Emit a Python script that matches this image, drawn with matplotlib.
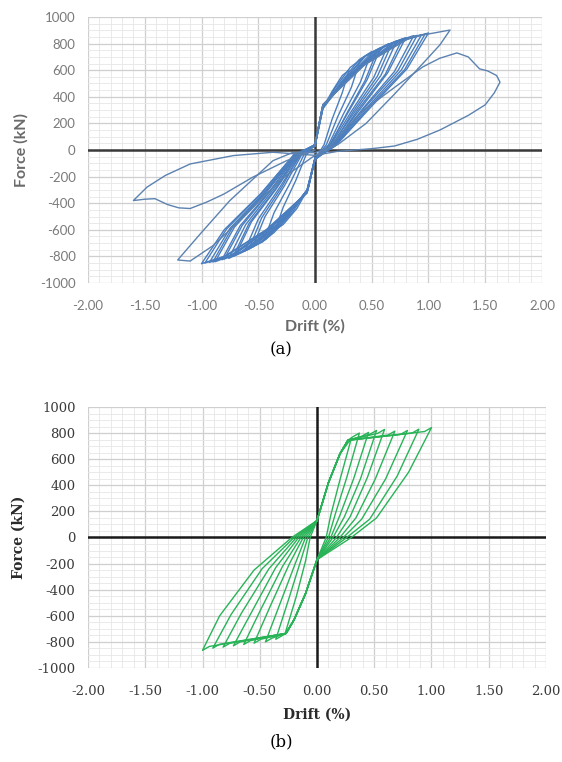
import numpy as np
import matplotlib
matplotlib.use("Agg")
import matplotlib.pyplot as plt
from matplotlib.ticker import MultipleLocator

# ---- (a) blue loops, drift (%) / force (kN) ----
blue_drift = [
    [0, 0.06, 0.15, 0.24, 0.30, 0.24, 0.15, 0.08, 0, -0.06, -0.16, -0.28, -0.35, -0.28, -0.17, -0.08, 0],
    [0, 0.06, 0.18, 0.31, 0.40, 0.32, 0.20, 0.10, 0, -0.06, -0.20, -0.36, -0.45, -0.36, -0.22, -0.10, 0],
    [0, 0.07, 0.22, 0.39, 0.50, 0.40, 0.25, 0.12, 0, -0.07, -0.24, -0.43, -0.55, -0.44, -0.27, -0.12, 0],
    [0, 0.07, 0.25, 0.45, 0.58, 0.46, 0.29, 0.13, 0, -0.07, -0.27, -0.49, -0.62, -0.50, -0.31, -0.13, 0],
    [0, 0.07, 0.28, 0.51, 0.65, 0.52, 0.32, 0.14, 0, -0.07, -0.30, -0.55, -0.70, -0.56, -0.34, -0.14, 0],
    [0, 0.07, 0.31, 0.57, 0.72, 0.58, 0.36, 0.15, 0, -0.07, -0.33, -0.60, -0.76, -0.61, -0.37, -0.15, 0],
    [0, 0.07, 0.34, 0.63, 0.80, 0.64, 0.40, 0.16, 0, -0.07, -0.35, -0.65, -0.82, -0.66, -0.40, -0.16, 0],
    [0, 0.07, 0.37, 0.69, 0.87, 0.70, 0.43, 0.17, 0, -0.07, -0.38, -0.70, -0.88, -0.71, -0.43, -0.17, 0],
    [0, 0.07, 0.40, 0.75, 0.94, 0.76, 0.46, 0.18, 0, -0.07, -0.40, -0.74, -0.93, -0.75, -0.45, -0.18, 0],
    [0, 0.07, 0.43, 0.80, 1.00, 0.81, 0.50, 0.19, 0, -0.07, -0.43, -0.80, -1.00, -0.80, -0.48, -0.19, 0],
    # repeated cycles
    [0, 0.07, 0.24, 0.43, 0.55, 0.44, 0.28, 0.13, 0, -0.07, -0.26, -0.46, -0.58, -0.47, -0.29, -0.13, 0],
    [0, 0.07, 0.30, 0.54, 0.68, 0.55, 0.34, 0.15, 0, -0.07, -0.31, -0.57, -0.72, -0.58, -0.35, -0.15, 0],
    [0, 0.07, 0.33, 0.61, 0.77, 0.62, 0.38, 0.16, 0, -0.07, -0.34, -0.63, -0.80, -0.64, -0.39, -0.16, 0],
    [0, 0.07, 0.38, 0.72, 0.90, 0.73, 0.44, 0.17, 0, -0.07, -0.39, -0.72, -0.90, -0.73, -0.44, -0.17, 0],
    [0, 0.07, 0.42, 0.78, 0.97, 0.79, 0.48, 0.18, 0, -0.07, -0.42, -0.78, -0.97, -0.78, -0.47, -0.18, 0],
]
blue_force = [
    [40, 300, 440, 560, 600, 430, 230, 40, -70, -290, -440, -560, -600, -430, -230, -40, 40],
    [40, 300, 470, 620, 680, 470, 250, 40, -70, -290, -470, -620, -680, -470, -250, -40, 40],
    [40, 320, 500, 680, 740, 510, 270, 40, -70, -300, -500, -670, -730, -500, -270, -40, 40],
    [40, 320, 520, 710, 770, 530, 280, 40, -70, -300, -520, -700, -760, -520, -280, -40, 40],
    [40, 330, 540, 740, 800, 550, 290, 40, -70, -310, -540, -730, -790, -540, -290, -40, 40],
    [40, 330, 560, 760, 820, 560, 300, 40, -70, -310, -560, -750, -815, -560, -300, -40, 40],
    [40, 340, 580, 790, 845, 580, 310, 40, -70, -320, -570, -765, -825, -570, -310, -40, 40],
    [40, 340, 600, 810, 860, 590, 320, 40, -70, -320, -580, -780, -840, -580, -320, -40, 40],
    [40, 340, 620, 820, 868, 600, 320, 40, -70, -320, -590, -790, -845, -590, -320, -40, 40],
    [40, 340, 640, 830, 880, 610, 330, 40, -70, -320, -600, -800, -855, -600, -330, -40, 40],
    [30, 310, 510, 700, 750, 520, 275, 30, -60, -300, -510, -690, -740, -510, -275, -30, 30],
    [30, 320, 550, 750, 805, 555, 295, 30, -60, -305, -550, -740, -800, -550, -295, -30, 30],
    [30, 330, 570, 780, 835, 570, 305, 30, -60, -315, -565, -760, -820, -565, -305, -30, 30],
    [30, 335, 610, 815, 862, 595, 320, 30, -60, -320, -585, -785, -842, -585, -320, -30, 30],
    [30, 340, 630, 825, 872, 605, 325, 30, -60, -320, -595, -795, -850, -595, -325, -30, 30],
]
# cycle to +1.19 / -1.21
blue_c11_drift = [0, 0.07, 0.45, 0.85, 1.05, 1.19, 1.10, 0.95, 0.70, 0.45, 0.20, 0, -0.20, -0.37,
                  -0.75, -1.00, -1.21, -1.10, -0.90, -0.60, -0.30, 0, 0.10]
blue_c11_force = [40, 340, 650, 850, 880, 902, 790, 650, 420, 200, 40, -20, -20, -80,
                  -380, -620, -827, -835, -720, -480, -220, -40, 0]
# last cycle to +1.63 / -1.60
blue_c12_drift = [0.10, 0.40, 0.70, 0.95, 1.10, 1.25, 1.35, 1.45, 1.52, 1.60, 1.63, 1.58, 1.50, 1.35,
                  1.10, 0.90, 0.70, 0.50, 0.20, 0, -0.37, -0.72, -1.10, -1.32, -1.48, -1.60,
                  -1.50, -1.41, -1.30, -1.20, -1.10, -0.95, -0.80, -0.55, -0.25, 0]
blue_c12_force = [0, 280, 470, 625, 690, 730, 700, 610, 595, 560, 510, 430, 340, 260,
                  150, 80, 30, 10, -10, -40, -17, -42, -105, -192, -279, -380,
                  -370, -366, -410, -435, -440, -390, -330, -205, -80, 0]

# ---- (b) green loops ----
green_drift = [
    [0, 0.10, 0.20, 0.30, 0.20, 0.12, 0.08, 0, -0.10, -0.20, -0.28, -0.18, -0.10, -0.06, 0],
    [0, 0.10, 0.20, 0.27, 0.31, 0.37, 0.26, 0.16, 0.10, 0, -0.10, -0.20, -0.27, -0.30, -0.36, -0.25, -0.15, -0.08, 0],
    [0, 0.10, 0.20, 0.27, 0.39, 0.45, 0.32, 0.20, 0.12, 0, -0.10, -0.20, -0.27, -0.39, -0.45, -0.32, -0.19, -0.10, 0],
    [0, 0.10, 0.20, 0.27, 0.46, 0.52, 0.38, 0.24, 0.14, 0, -0.10, -0.20, -0.27, -0.49, -0.55, -0.41, -0.24, -0.12, 0],
    [0, 0.10, 0.20, 0.27, 0.53, 0.59, 0.44, 0.29, 0.17, 0, -0.10, -0.20, -0.27, -0.58, -0.64, -0.49, -0.30, -0.14, 0],
    [0, 0.10, 0.20, 0.27, 0.62, 0.68, 0.51, 0.34, 0.20, 0, -0.10, -0.20, -0.27, -0.67, -0.73, -0.57, -0.36, -0.16, 0],
    [0, 0.10, 0.20, 0.27, 0.73, 0.79, 0.60, 0.39, 0.23, 0, -0.10, -0.20, -0.27, -0.76, -0.82, -0.66, -0.42, -0.18, 0],
    [0, 0.10, 0.20, 0.27, 0.83, 0.89, 0.70, 0.46, 0.26, 0, -0.10, -0.20, -0.27, -0.85, -0.91, -0.75, -0.48, -0.20, 0],
    [0, 0.10, 0.20, 0.27, 0.94, 1.00, 0.80, 0.52, 0.30, 0, -0.10, -0.20, -0.27, -0.94, -1.00, -0.85, -0.55, -0.22, 0],
]
green_force = [
    [130, 420, 640, 760, 440, 170, 0, -170, -430, -630, -740, -450, -180, 0, 130],
    [130, 420, 640, 745, 770, 800, 460, 180, 0, -170, -430, -630, -735, -750, -780, -480, -200, 0, 130],
    [130, 420, 640, 745, 775, 805, 450, 170, 0, -170, -430, -630, -735, -770, -800, -500, -200, 0, 130],
    [130, 420, 640, 745, 790, 820, 450, 160, 0, -170, -430, -630, -735, -780, -810, -530, -200, 0, 130],
    [130, 420, 640, 745, 798, 828, 460, 160, 0, -170, -430, -630, -735, -790, -820, -550, -220, 0, 130],
    [130, 420, 640, 745, 785, 815, 450, 150, 0, -170, -430, -630, -735, -800, -830, -570, -230, 0, 130],
    [130, 420, 640, 745, 790, 820, 450, 140, 0, -170, -430, -630, -735, -810, -840, -580, -240, 0, 130],
    [130, 420, 640, 745, 800, 830, 470, 140, 0, -170, -430, -630, -735, -818, -848, -590, -240, 0, 130],
    [130, 420, 640, 745, 812, 842, 500, 150, 0, -170, -430, -630, -735, -835, -865, -600, -250, 0, 130],
]

x_ticks = [-2.0, -1.5, -1.0, -0.5, 0.0, 0.5, 1.0, 1.5, 2.0]
y_ticks = [-1000, -800, -600, -400, -200, 0, 200, 400, 600, 800, 1000]

fig = plt.figure(figsize=(5.62, 7.62), dpi=100)
ax1 = fig.add_axes([0.1566, 0.6286, 0.8078, 0.3491])
ax2 = fig.add_axes([0.1566, 0.1234, 0.8149, 0.3425])


def style_axes(ax, font, tick_color, label_color, tick_size, label_size, axis_color):
    ax.set_xlim(-2, 2)
    ax.set_ylim(-1000, 1000)
    ax.set_xticks(x_ticks)
    ax.set_yticks(y_ticks)
    ax.set_xticklabels(["%.2f" % v for v in x_ticks], family=font, color=tick_color, fontsize=tick_size)
    ax.set_yticklabels([str(v) for v in y_ticks], family=font, color=tick_color, fontsize=tick_size)
    ax.xaxis.set_minor_locator(MultipleLocator(0.1))
    ax.yaxis.set_minor_locator(MultipleLocator(50))
    ax.grid(which="major", color="#cfcfcf", lw=0.9)
    ax.grid(which="minor", color="#e6e6e6", lw=0.6)
    ax.set_axisbelow(True)
    ax.tick_params(which="both", length=0)
    ax.tick_params(axis="y", pad=9)
    ax.tick_params(axis="x", pad=12)
    for s in ax.spines.values():
        s.set_visible(False)
    ax.axhline(0, color=axis_color, lw=1.8, zorder=1)
    ax.axvline(0, color=axis_color, lw=1.8, zorder=1)
    ax.set_xlabel("Drift (%)", family=font, fontweight="bold", color=label_color, fontsize=label_size)
    ax.set_ylabel("Force (kN)", family=font, fontweight="bold", color=label_color, fontsize=label_size)


style_axes(ax1, "Lato", "#7a7a7a", "#6a6a6a", 9.5, 11.5, "#3a3a3a")
style_axes(ax2, "DejaVu Serif", "#3a3a3a", "#2a2a2a", 9.5, 10, "#1a1a1a")
ax1.yaxis.set_label_coords(-0.13, 0.5)
ax1.xaxis.set_label_coords(0.5, -0.135)
ax2.yaxis.set_label_coords(-0.137, 0.5)
ax2.xaxis.set_label_coords(0.5, -0.153)

blue = "#4a7ebf"
for d, f in zip(blue_drift, blue_force):
    ax1.plot(d, f, color=blue, lw=1.0, zorder=2)
ax1.plot(blue_c11_drift, blue_c11_force, color="#5b82b0", lw=1.0, zorder=2)
ax1.plot(blue_c12_drift, blue_c12_force, color="#5b82b0", lw=1.0, zorder=2)

green = "#28b357"
for d, f in zip(green_drift, green_force):
    ax2.plot(d, f, color=green, lw=1.0, zorder=2)

fig.text(0.5, 1 - 350 / 762, "(a)", ha="center", va="center", family="DejaVu Serif", fontsize=12)
fig.text(0.5, 1 - 742 / 762, "(b)", ha="center", va="center", family="DejaVu Serif", fontsize=12)

fig.savefig("out.png", dpi=100)
